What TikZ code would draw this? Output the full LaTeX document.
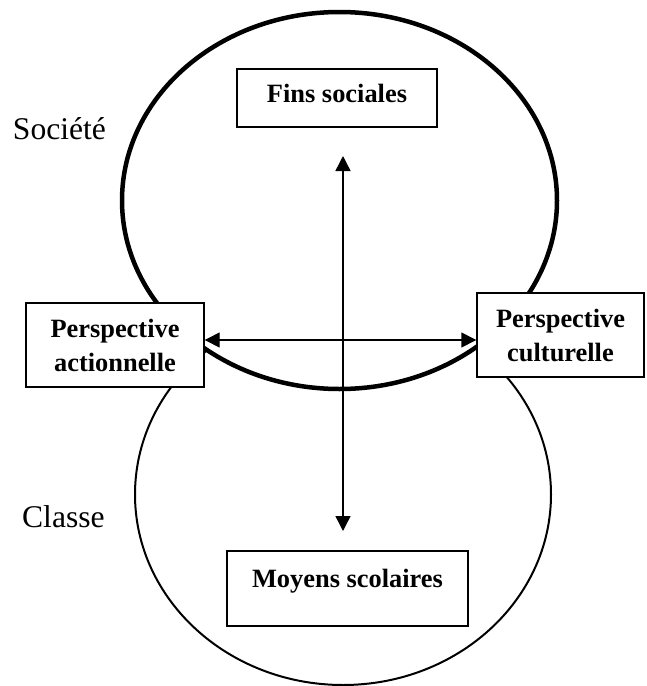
\documentclass[tikz,border=0pt]{standalone}
\usepackage{fontspec}
\setmainfont{Liberation Serif}
\usetikzlibrary{arrows.meta}
\begin{document}
\begin{tikzpicture}[x=1pt, y=-1pt, >={Triangle[length=15pt, width=15pt]}, line width=1.4pt,
	box/.style={draw, fill=white, inner sep=0pt, align=center, font=\fontsize{26.4}{34}\selectfont\bfseries},
	side/.style={anchor=base, font=\fontsize{31.6}{38}\selectfont}]

	\useasboundingbox (0,0) rectangle (646,686);

	\draw [line width=2pt] (343,494.5) ellipse [x radius=208, y radius=190.5];
	\draw [line width=4.5pt, fill=white] (339.5,200.5) ellipse [x radius=217.5, y radius=188.5];

	\node [box, minimum width=200pt, text height=33pt, text depth=25pt] (FS) at (337,98) {Fins sociales};
	\node [box, minimum width=241pt, text height=36pt, text depth=39pt] (MS) at (347.5,588.5) {Moyens scolaires};
	\node [box, minimum width=178pt, minimum height=84pt] (PA) at (115,345) {Perspective\\actionnelle};
	\node [box, minimum width=167pt, minimum height=84pt] (PC) at (560.5,335) {Perspective\\culturelle};

	\node [side] (S) at (59.5,139) {Société};
	\node [side] (C) at (63.4,527) {Classe};

	\coordinate (M) at (343,340);
	\coordinate (T) at (343,156);
	\coordinate (B) at (343,531);

	\draw [<->] (PA.east |- M) -- (PC.west |- M);
	\draw [<->] (T) -- (B);

\end{tikzpicture}
\end{document}
